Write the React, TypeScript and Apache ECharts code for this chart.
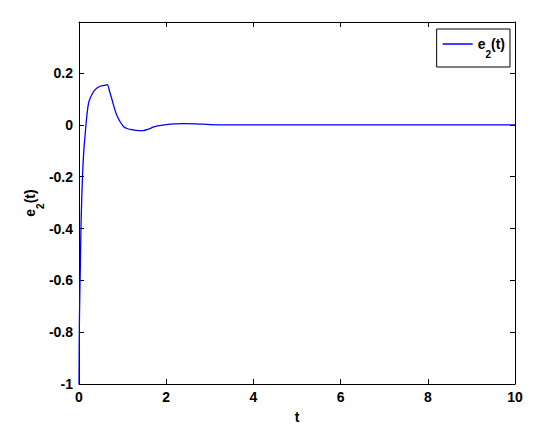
import React, { useEffect, useRef } from "react";
import * as echarts from "echarts";

const tValues = [0, 0.01, 0.03, 0.05, 0.08, 0.11, 0.14, 0.16, 0.19, 0.22, 0.26, 0.3, 0.35, 0.42, 0.5, 0.58, 0.65, 0.7, 0.76, 0.82, 0.88, 0.95, 1.02, 1.1, 1.2, 1.3, 1.47, 1.6, 1.7, 1.8, 2.0, 2.2, 2.4, 2.7, 3.0, 3.5, 10];
const e2Values = [-1, -0.75, -0.55, -0.36, -0.2, -0.1, -0.04, 0, 0.05, 0.085, 0.105, 0.118, 0.132, 0.143, 0.15, 0.152, 0.155, 0.13, 0.096, 0.06, 0.032, 0.01, -0.006, -0.014, -0.018, -0.021, -0.022, -0.016, -0.009, -0.004, 0.001, 0.004, 0.005, 0.004, 0.001, 0, 0];
const xTickLabels = ["0", "2", "4", "6", "8", "10"];
const seriesName = "e2(t)";

const FONT = "'Liberation Sans', Arial, sans-serif";

export default function App() {
  const ref = useRef<HTMLDivElement>(null);
  useEffect(() => {
    if (!ref.current) return;
    const chart = echarts.init(ref.current, null, { renderer: "svg" });
    const rich = {
      a: { fontFamily: FONT, fontWeight: "bold", fontSize: 14, color: "#000", lineHeight: 18 },
      b: { fontFamily: FONT, fontWeight: "bold", fontSize: 10, color: "#000", verticalAlign: "bottom", lineHeight: 18, padding: [0, 0, -6, 0] },
    };
    const axisCommon = {
      axisLine: { show: true, onZero: false, lineStyle: { color: "#000", width: 1 } },
      axisTick: { show: true, inside: true, length: 5, lineStyle: { color: "#000" } },
      splitLine: { show: false },
    };
    chart.setOption({
      animation: false,
      backgroundColor: "#fff",
      grid: { left: 79, right: 30, top: 22, bottom: 50, containLabel: false },
      legend: {
        right: 35,
        top: 29,
        orient: "vertical",
        backgroundColor: "#fff",
        borderColor: "#000",
        borderWidth: 1,
        borderRadius: 0,
        padding: [8, 5, 8, 6],
        itemWidth: 30,
        itemHeight: 1.5,
        itemGap: 4,
        icon: "rect",
        data: [seriesName],
        formatter: () => "{a|e}{b|2}{a|(t)}",
        textStyle: { rich },
      },
      xAxis: [
        {
          type: "value",
          min: 0,
          max: 10,
          interval: 2,
          position: "bottom",
          name: "t",
          nameLocation: "middle",
          nameGap: 26,
          nameMoveOverlap: false,
          nameTextStyle: { fontFamily: FONT, fontWeight: "bold", fontSize: 14, color: "#000" },
          axisLabel: {
            fontFamily: FONT,
            fontWeight: "bold",
            fontSize: 14,
            color: "#000",
            margin: 6,
            formatter: (v: number) => xTickLabels[Math.round(v / 2)] ?? String(v),
          },
          ...axisCommon,
        },
        {
          type: "value",
          min: 0,
          max: 10,
          interval: 2,
          position: "top",
          axisLabel: { show: false },
          ...axisCommon,
        },
      ],
      yAxis: [
        {
          type: "value",
          min: -1,
          max: 0.397,
          interval: 0.2,
          position: "left",
          name: "{a|e}{b|2}{a|(t)}",
          nameLocation: "middle",
          nameGap: 40,
          nameMoveOverlap: false,
          nameRotate: 90,
          nameTextStyle: { rich },
          axisLabel: {
            fontFamily: FONT,
            fontWeight: "bold",
            fontSize: 14,
            color: "#000",
            margin: 6,
            showMaxLabel: false,
            formatter: (v: number) => {
              if (v > 0.3) return "";
              const r = Math.round(v * 10) / 10;
              return r === 0 ? "0" : String(r);
            },
          },
          ...axisCommon,
        },
        {
          type: "value",
          min: -1,
          max: 0.397,
          interval: 0.2,
          position: "right",
          axisLabel: { show: false },
          ...axisCommon,
        },
      ],
      series: [
        {
          name: seriesName,
          type: "line",
          xAxisIndex: 0,
          yAxisIndex: 0,
          data: tValues.map((t, i) => [t, e2Values[i]]),
          showSymbol: false,
          smooth: 0.3,
          lineStyle: { color: "#0000ff", width: 1.3 },
          itemStyle: { color: "#0000ff" },
        },
      ],
    });
    return () => chart.dispose();
  }, []);
  return <div ref={ref} style={{ width: 545, height: 434, position: "absolute", left: 0, top: 0 }} />;
}
